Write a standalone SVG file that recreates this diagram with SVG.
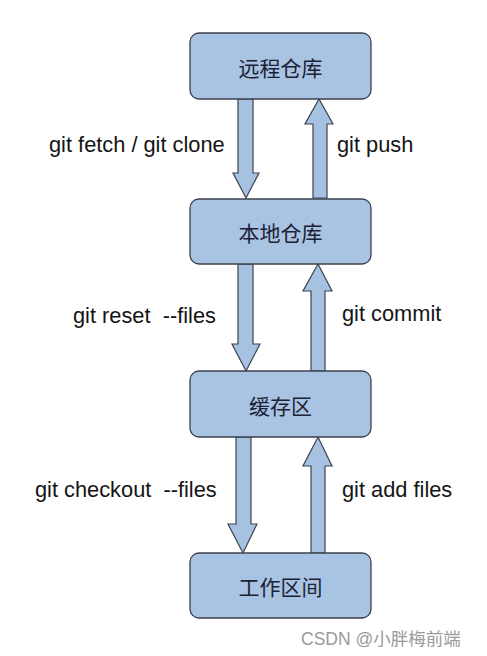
<svg xmlns="http://www.w3.org/2000/svg" width="487" height="656" viewBox="0 0 487 656">
<style>
.box{fill:#a9c3e3;stroke:#3b414c;stroke-width:1.3}
.arr{fill:#a7c1e1;stroke:#3b4350;stroke-width:1.2;stroke-linejoin:miter}
.nt{font-family:"Noto Sans CJK SC","Noto Sans CJK TC",sans-serif;font-size:21px;font-weight:400;fill:#1c2236;text-anchor:middle;dominant-baseline:central}
.lb{font-family:"Liberation Sans",Arial,sans-serif;font-size:21.8px;fill:#141414}
.wm{font-family:"Liberation Sans","Noto Sans CJK SC",sans-serif;font-size:17.5px;fill:#9a9a9a}
</style>
<rect width="487" height="656" fill="#ffffff"/>
<g id="connectors">
<path class="arr" d="M238,99 H253 V173 H259 L246,198 L233,173 H238 Z"/>
<path class="arr" d="M313,198 H327 V124 H333 L319,99 L305,124 H313 Z"/>
<path class="arr" d="M238,264 H253 V344 H260 L246,371 L232,344 H238 Z"/>
<path class="arr" d="M311,371 H325 V291 H332 L318,264 L303,291 H311 Z"/>
<path class="arr" d="M236,437 H251 V524 H257 L243,553 L228,524 H236 Z"/>
<path class="arr" d="M311,553 H325 V466 H332 L318,437 L303,466 H311 Z"/>
</g>
<g id="remote">
<rect class="box" x="190" y="33" width="181" height="66" rx="9"/>
<text class="nt" x="280.5" y="67">远程仓库</text>
</g>
<g id="local">
<rect class="box" x="190" y="199" width="181" height="65" rx="9"/>
<text class="nt" x="280.5" y="232">本地仓库</text>
</g>
<g id="stage">
<rect class="box" x="190" y="371" width="181" height="66" rx="9"/>
<text class="nt" x="280.5" y="405">缓存区</text>
</g>
<g id="work">
<rect class="box" x="190" y="553" width="181" height="65" rx="9"/>
<text class="nt" x="280.5" y="586">工作区间</text>
</g>
<g id="labels">
<text class="lb" x="49" y="152">git fetch / git clone</text>
<text class="lb" x="337" y="152">git push</text>
<text class="lb" x="73" y="323" xml:space="preserve">git reset  --files</text>
<text class="lb" x="342" y="321">git commit</text>
<text class="lb" x="35" y="497" xml:space="preserve">git checkout  --files</text>
<text class="lb" x="342" y="497">git add files</text>
</g>
<text class="wm" x="301" y="645">CSDN @小胖梅前端</text>
</svg>
